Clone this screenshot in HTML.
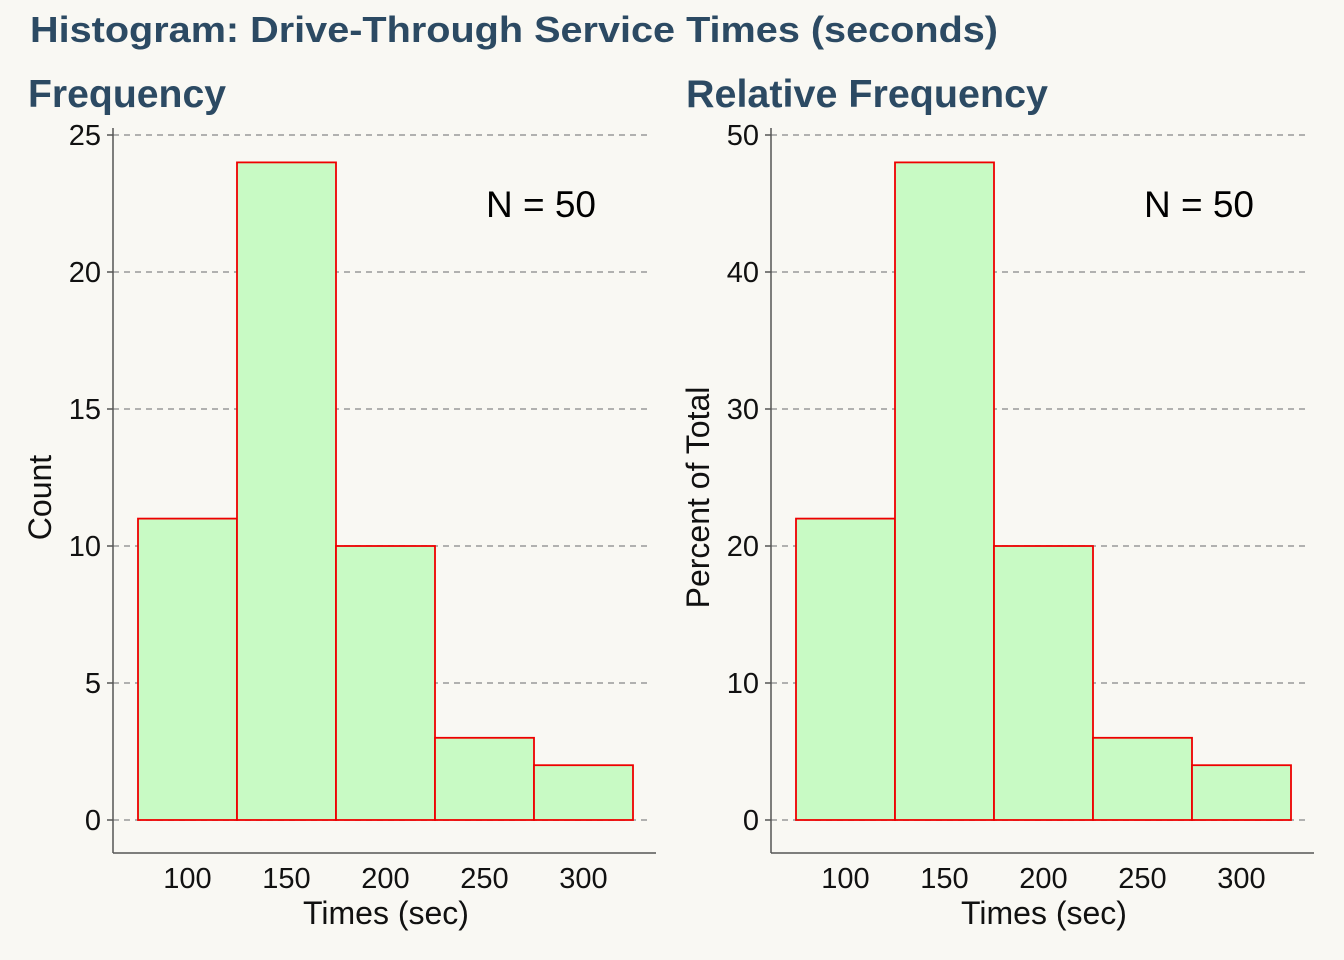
<!DOCTYPE html>
<html><head><meta charset="utf-8">
<style>
html,body{margin:0;padding:0;background:#f9f8f3;}
svg{display:block;font-family:"Liberation Sans",Arial,sans-serif;}
</style></head>
<body>
<svg id="chart" width="1344" height="960" viewBox="0 0 1344 960">
<rect width="1344" height="960" fill="#f9f8f3"/>
<text x="30" y="42" font-size="36" font-weight="bold" fill="#2c4a63" textLength="968" lengthAdjust="spacingAndGlyphs">Histogram: Drive-Through Service Times (seconds)</text>
<g id="p1"></g>
<g id="p2"></g>
</svg>
<script>
const binStarts = [75,125,175,225,275];
const binWidth = 50;
const counts = [11,24,10,3,2];
const percents = [22,48,20,6,4];
const xTicks = [100,150,200,250,300];
const countTicks = [0,5,10,15,20,25];
const percentTicks = [0,10,20,30,40,50];
const NS='http://www.w3.org/2000/svg';
function mk(p,tag,attrs,txt){const e=document.createElementNS(NS,tag);for(const k in attrs)e.setAttribute(k,attrs[k]);if(txt!==undefined)e.textContent=txt;p.appendChild(e);return e;}
function panel(g,ox,title,vals,ticks,ymax,ylabel,titleLen){
  const x=v=>ox+138+(v-75)*1.98;
  const y=v=>820-v*(685/ymax);
  let t=mk(g,'text',{x:ox+28,y:107,'font-size':39,'font-weight':'bold',fill:'#2c4a63',textLength:titleLen,lengthAdjust:'spacingAndGlyphs'},title);
  
  
  ticks.forEach(v=>{
    let l=mk(g,'line',{x1:ox+113,x2:ox+650,y1:y(v),y2:y(v),stroke:'#999','stroke-width':1.5,'stroke-dasharray':'6,5'});
    
    
    let tk=mk(g,'line',{x1:ox+107,x2:ox+113,y1:y(v),y2:y(v),stroke:'#555','stroke-width':1.5});
    
    
    let lb=mk(g,'text',{x:ox+101,y:y(v)+10,'font-size':29,'text-anchor':'end',fill:'#111'},v);
    
    
  });
  vals.forEach((v,i)=>{
    let r=mk(g,'rect',{x:x(binStarts[i]),y:y(v),width:x(binStarts[i]+binWidth)-x(binStarts[i]),height:y(0)-y(v),fill:'#c8fac4',stroke:'#e00','stroke-width':1.8});
    
    
  });
  let ya=mk(g,'line',{x1:ox+113,x2:ox+113,y1:128,y2:853,stroke:'#555','stroke-width':1.5});
  
  
  let xa=mk(g,'line',{x1:ox+113,x2:ox+656,y1:853,y2:853,stroke:'#555','stroke-width':1.5});
  
  
  xTicks.forEach(v=>{
    let lb=mk(g,'text',{x:x(v),y:888,'font-size':29,'text-anchor':'middle',fill:'#111'},v);
    
    
  });
  let xt=mk(g,'text',{x:ox+386,y:924,'font-size':32,'text-anchor':'middle',fill:'#111'},'Times (sec)');
  
  
  let yt=mk(g,'text',{x:0,y:0,'font-size':32,'text-anchor':'middle',fill:'#111',transform:`translate(${ox+51},${y(ymax/2)+20}) rotate(-90)`},ylabel);
  
  
  let n=mk(g,'text',{x:ox+541,y:217,'font-size':37,'text-anchor':'middle',fill:'#000'},'N = 50');
  
  
}
panel(document.getElementById('p1'),0,'Frequency',counts,countTicks,25,'Count',198);
panel(document.getElementById('p2'),658,'Relative Frequency',percents,percentTicks,50,'Percent of Total',362);
</script>
</body></html>
